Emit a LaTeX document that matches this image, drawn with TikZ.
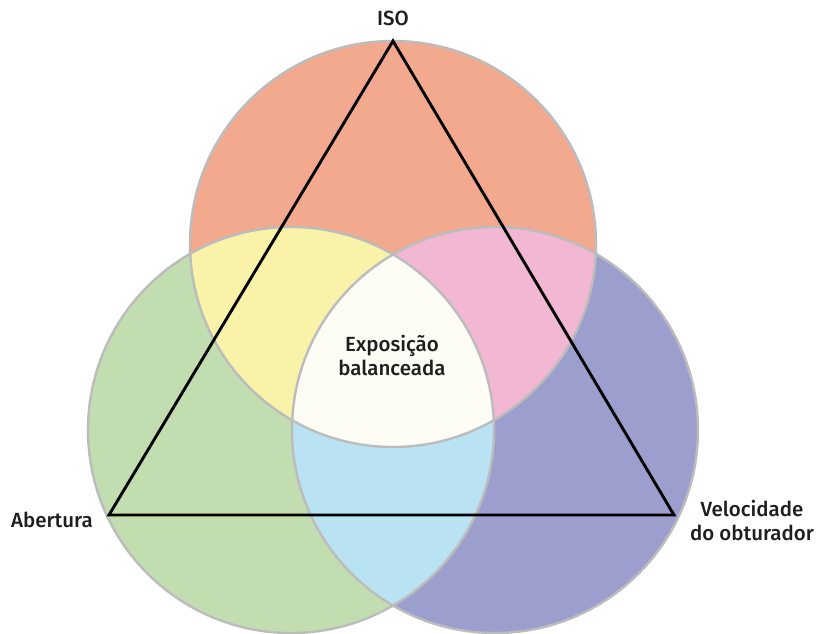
\documentclass[tikz,border=0pt]{standalone}
\usepackage{fontspec}
\setmainfont{Fira Sans}[UprightFont=* Medium]
\definecolor{cTop}{RGB}{243,169,141}
\definecolor{cLeft}{RGB}{194,222,176}
\definecolor{cRight}{RGB}{156,159,205}
\definecolor{cTL}{RGB}{249,243,170}
\definecolor{cTR}{RGB}{242,183,210}
\definecolor{cLR}{RGB}{185,227,243}
\definecolor{cAll}{RGB}{253,253,246}
\definecolor{cEdge}{RGB}{188,188,188}
\definecolor{cText}{RGB}{30,30,30}
\begin{document}
\begin{tikzpicture}[x=1pt,y=-1pt,
  lbl/.style={font=\fontsize{20.5}{24}\selectfont, text=cText, align=center, inner sep=0pt},
  ring/.style={draw=cEdge, line width=2.4pt},
  tri/.style={draw=black, line width=2.9pt, line join=miter}]
\useasboundingbox (0,0) rectangle (822,633);
\fill[white] (0,0) rectangle (822,633);
\coordinate (ct) at (393,244);
\coordinate (cl) at (291,430);
\coordinate (cr) at (495,430);
\def\R{203pt}
% base fills
\fill[cTop] (ct) circle[radius=\R];
\fill[cLeft] (cl) circle[radius=\R];
\fill[cRight] (cr) circle[radius=\R];
% pairwise intersections
\begin{scope}
  \clip (ct) circle[radius=\R];
  \fill[cTL] (cl) circle[radius=\R];
\end{scope}
\begin{scope}
  \clip (ct) circle[radius=\R];
  \fill[cTR] (cr) circle[radius=\R];
\end{scope}
\begin{scope}
  \clip (cl) circle[radius=\R];
  \fill[cLR] (cr) circle[radius=\R];
\end{scope}
\begin{scope}
  \clip (ct) circle[radius=\R];
  \clip (cl) circle[radius=\R];
  \fill[cAll] (cr) circle[radius=\R];
\end{scope}
% outlines
\draw[ring] (ct) circle[radius=\R];
\draw[ring] (cl) circle[radius=\R];
\draw[ring] (cr) circle[radius=\R];
% triangle
\coordinate (iso) at (393,41);
\coordinate (ab) at (109,515);
\coordinate (vel) at (674,515);
\draw[tri] (iso) -- (vel) -- (ab) -- cycle;
% labels
\node[lbl] (tIso) at (393,18) {ISO};
\node[lbl] (tAb) at (52,520) {Abertura};
\node[lbl] (tVel) at (752,520) {Velocidade\\do obturador};
\node[lbl] (tExp) at (392,355) {Exposição\\balanceada};
\end{tikzpicture}
\end{document}
